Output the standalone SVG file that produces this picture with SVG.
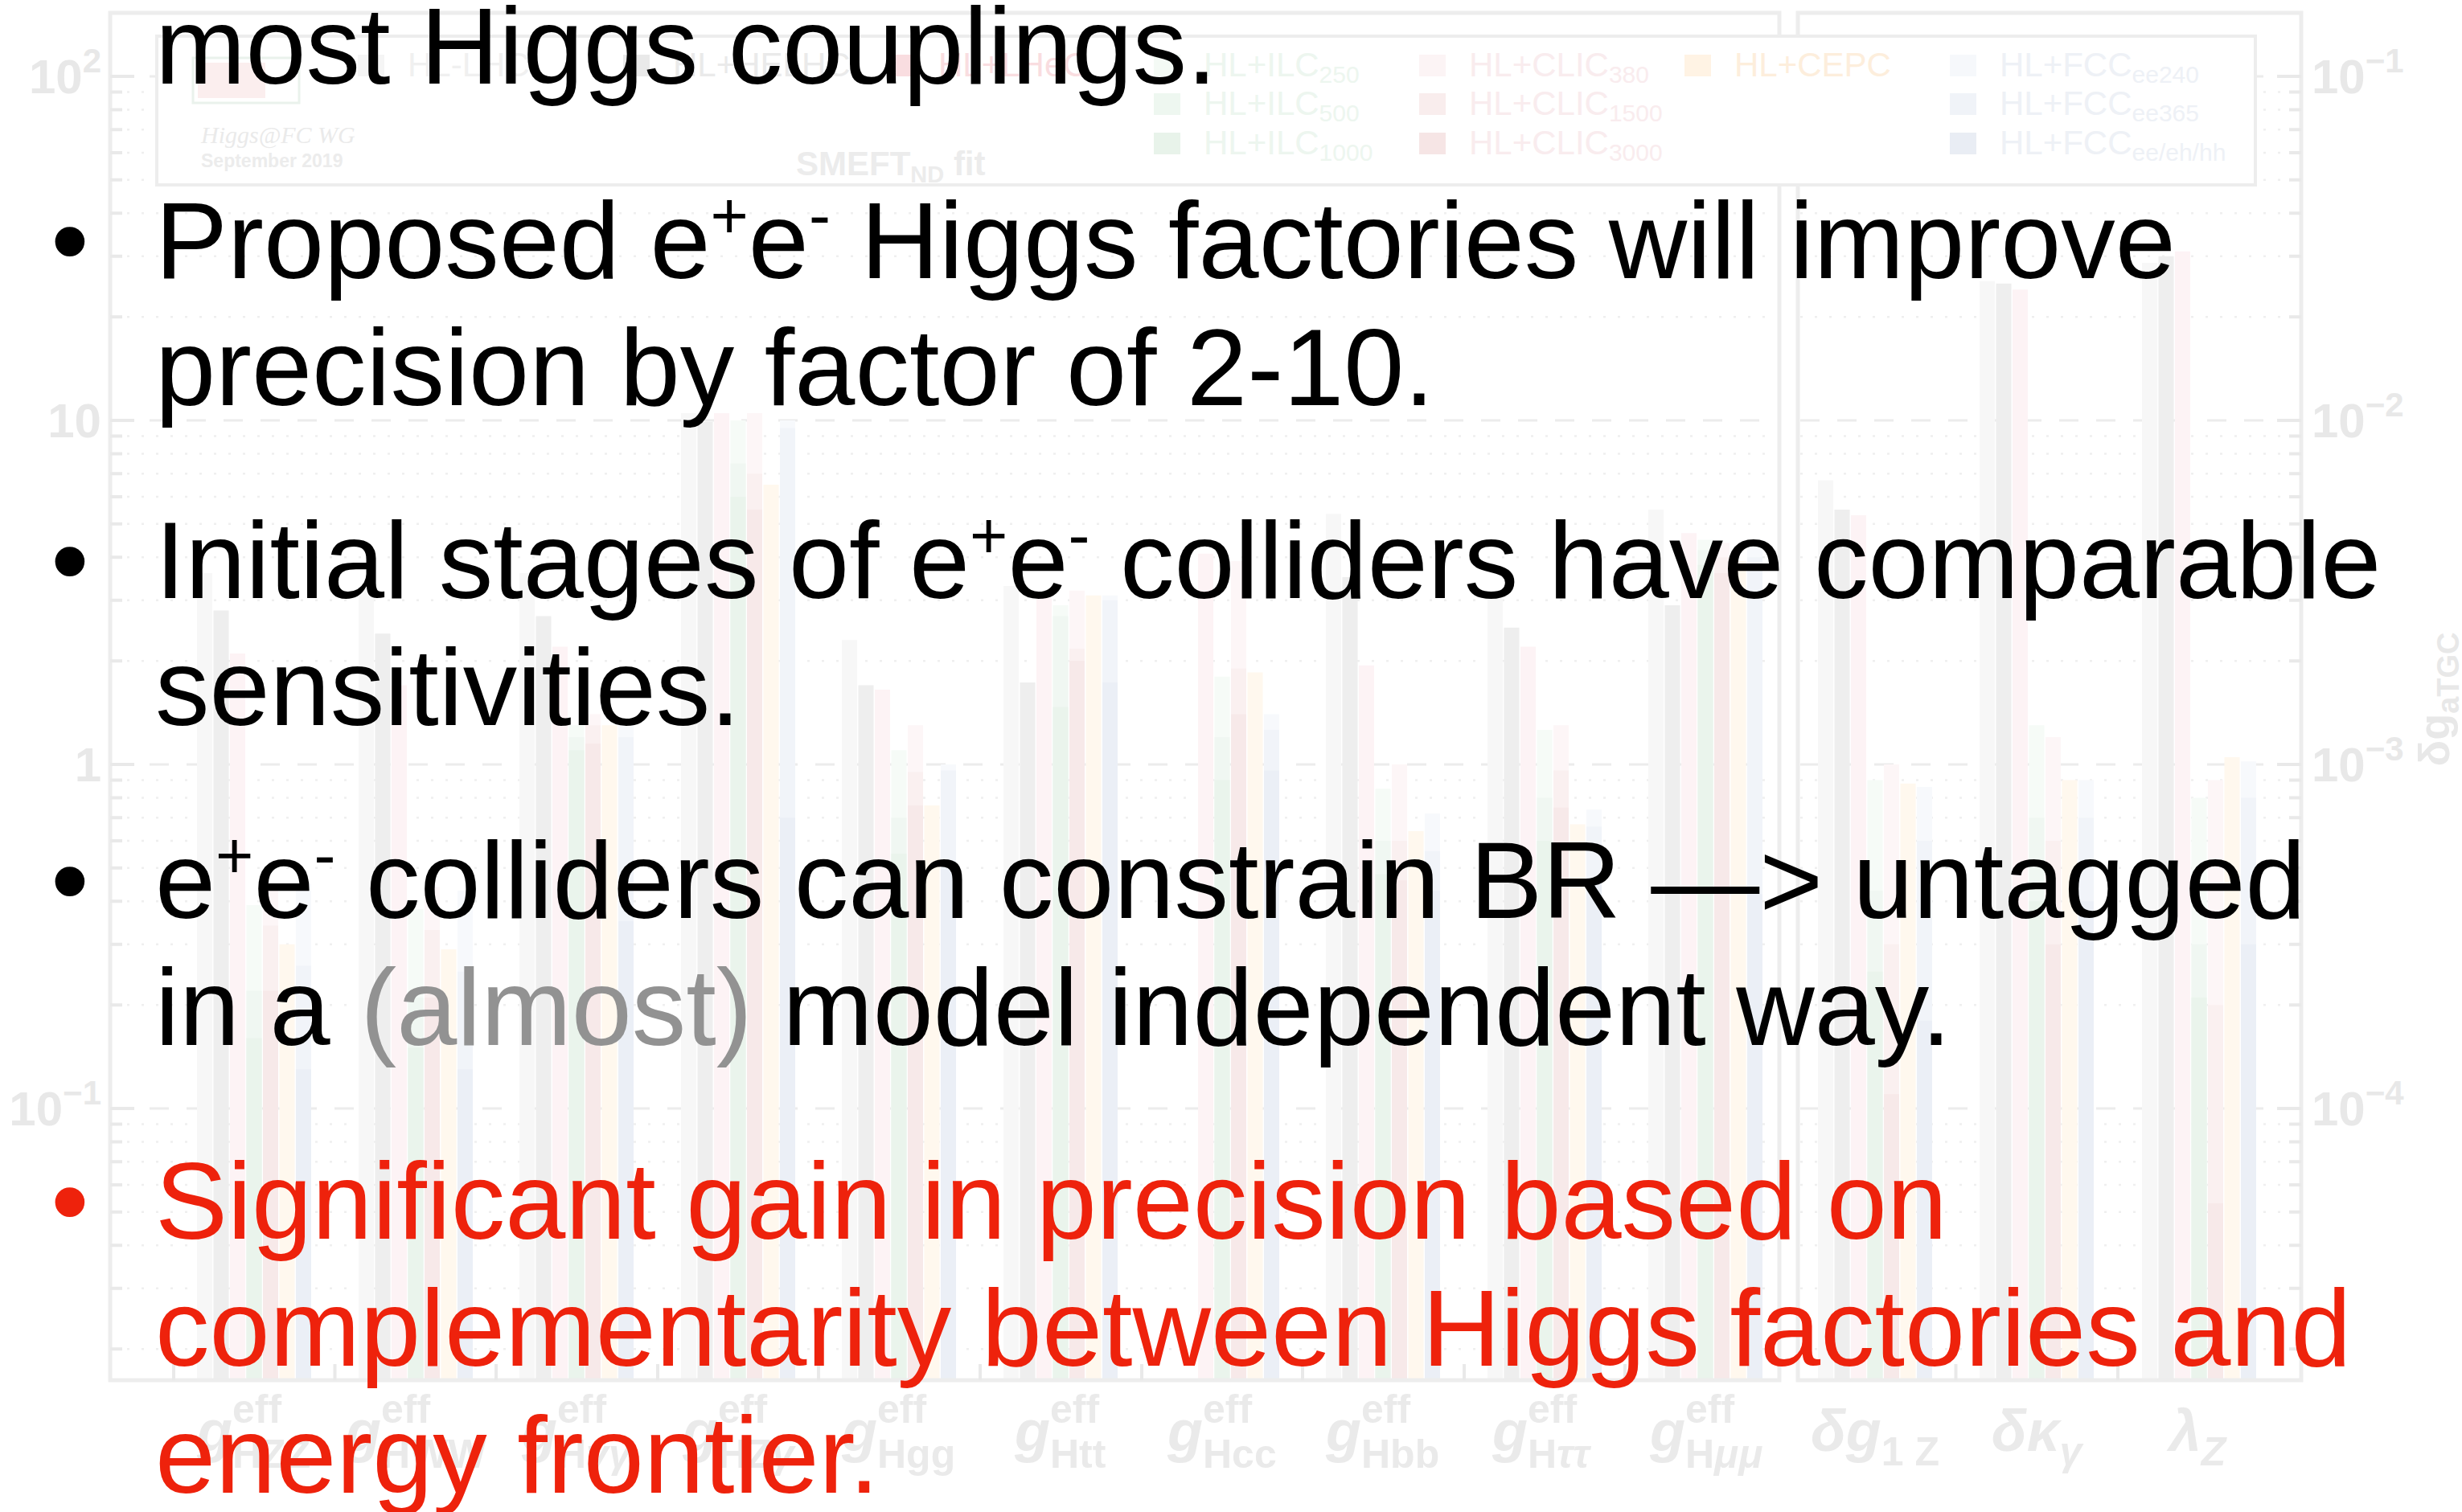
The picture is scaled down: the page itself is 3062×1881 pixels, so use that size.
<svg xmlns="http://www.w3.org/2000/svg" width="3062" height="1881" viewBox="0 0 3062 1881">
  <style>
    .t { font-family: "Liberation Sans", Arial, Helvetica, sans-serif; font-size: 135px; fill: #000; }
    .red { fill: #ee220c; }
    .gray { fill: #929292; }
    .ax { font-family: "Liberation Sans", Arial, sans-serif; font-weight: bold; fill: #e8e8e8; }
    .frame { fill: none; stroke: #ededed; stroke-width: 5; }
    .major { fill: none; stroke: #ececec; stroke-width: 3; stroke-dasharray: 24 22; }
    .minor { fill: none; stroke: #efefef; stroke-width: 2.5; stroke-dasharray: 3 15; }
    .tick { fill: none; stroke: #e9e9e9; stroke-width: 4; }
    .bars path { fill: none; stroke-width: 19; }
    .hl { stroke: #f7f7f7; } .he { stroke: #eeeeee; } .lh { stroke: #fdf3f5; }
    .i1 { stroke: #f6fbf7; } .i2 { stroke: #f0f7f2; } .i3 { stroke: #eaf4ec; }
    .c1 { stroke: #fdf6f7; } .c2 { stroke: #faf0f0; } .c3 { stroke: #f7e9e9; }
    .ce { stroke: #fff8ee; }
    .f1 { stroke: #f7f9fc; } .f2 { stroke: #f1f4f9; } .f3 { stroke: #ebeff6; }
    .leg { font-family: "Liberation Sans", Arial, sans-serif; font-size: 42px; }
    .sub { font-size: 30px; }
    .xl { font-family: "Liberation Sans", Arial, sans-serif; font-weight: bold; fill: #eaeaea; font-size: 50px; }
    .xg { font-size: 72px; font-style: italic; }
  </style>

  <rect width="3062" height="1881" fill="#fff"/>

  <!-- faded background chart: coupling precision bars -->
  <g id="chart">
    <!-- grid: dotted minor decades, dashed majors -->
    <path class="minor" d="M140 114.6H2210M2239 114.6H2859M140 136.5H2210M2239 136.5H2859M140 161.3H2210M2239 161.3H2859M140 189.9H2210M2239 189.9H2859M140 223.8H2210M2239 223.8H2859M140 265.3H2210M2239 265.3H2859M140 318.8H2210M2239 318.8H2859M140 394.2H2210M2239 394.2H2859M140 542.6H2210M2239 542.6H2859M140 564.5H2210M2239 564.5H2859M140 589.3H2210M2239 589.3H2859M140 617.9H2210M2239 617.9H2859M140 651.8H2210M2239 651.8H2859M140 693.3H2210M2239 693.3H2859M140 746.8H2210M2239 746.8H2859M140 822.2H2210M2239 822.2H2859M140 970.6H2210M2239 970.6H2859M140 992.5H2210M2239 992.5H2859M140 1017.3H2210M2239 1017.3H2859M140 1045.9H2210M2239 1045.9H2859M140 1079.8H2210M2239 1079.8H2859M140 1121.3H2210M2239 1121.3H2859M140 1174.8H2210M2239 1174.8H2859M140 1250.2H2210M2239 1250.2H2859M140 1398.6H2210M2239 1398.6H2859M140 1420.5H2210M2239 1420.5H2859M140 1445.3H2210M2239 1445.3H2859M140 1473.9H2210M2239 1473.9H2859M140 1507.8H2210M2239 1507.8H2859M140 1549.3H2210M2239 1549.3H2859M140 1602.8H2210M2239 1602.8H2859M140 1678.2H2210M2239 1678.2H2859"/>
    <path class="major" d="M140 95H2210M2239 95H2859M140 523H2210M2239 523H2859M140 951H2210M2239 951H2859M140 1379H2210M2239 1379H2859"/>

    <!-- bars: HL-LHC, HL+HELHC, HL+LHeC, ILC, CLIC, CEPC, FCC (stages overlaid) -->
    <g class="bars">
      <g transform="translate(316 0)">
        <path class="hl" d="M-61.5 712.9V1715"/><path class="he" d="M-41 759.6V1715"/><path class="lh" d="M-20.5 813.1V1715"/>
        <path class="i1" d="M0 1126V1715"/><path class="i2" d="M0 1232.4V1715"/><path class="i3" d="M0 1291.6V1715"/>
        <path class="c1" d="M20.5 1099.4V1715"/><path class="c2" d="M20.5 1151.5V1715"/><path class="c3" d="M20.5 1232.4V1715"/>
        <path class="ce" d="M41 1174.8V1715"/>
        <path class="f1" d="M61.5 1099.4V1715"/><path class="f2" d="M61.5 1201.4V1715"/><path class="f3" d="M61.5 1330.3V1715"/>
      </g>
      <g transform="translate(517 0)">
        <path class="hl" d="M-61.5 734.8V1715"/><path class="he" d="M-41 788.3V1715"/><path class="lh" d="M-20.5 852.4V1715"/>
        <path class="i1" d="M0 1130.9V1715"/><path class="i2" d="M0 1241.1V1715"/><path class="i3" d="M0 1303.6V1715"/>
        <path class="c1" d="M20.5 1103.6V1715"/><path class="c2" d="M20.5 1157.1V1715"/><path class="c3" d="M20.5 1241.1V1715"/>
        <path class="ce" d="M41 1181.1V1715"/>
        <path class="f1" d="M61.5 1107.9V1715"/><path class="f2" d="M61.5 1208.7V1715"/><path class="f3" d="M61.5 1330.3V1715"/>
      </g>
      <g transform="translate(717 0)">
        <path class="hl" d="M-61.5 712.9V1715"/><path class="he" d="M-41 766.4V1715"/><path class="lh" d="M-20.5 804.5V1715"/>
        <path class="i1" d="M0 902.2V1715"/><path class="i2" d="M0 917.1V1715"/><path class="i3" d="M0 933.3V1715"/>
        <path class="c1" d="M20.5 888.5V1715"/><path class="c2" d="M20.5 902.2V1715"/><path class="c3" d="M20.5 925V1715"/>
        <path class="ce" d="M41 902.2V1715"/>
        <path class="f1" d="M61.5 902.2V1715"/><path class="f2" d="M61.5 917.1V1715"/><path class="f3" d="M61.5 1146.1V1715"/>
      </g>
      <g transform="translate(918 0)">
        <path class="hl" d="M-61.5 513.9V1715"/><path class="he" d="M-41 524.9V1715"/><path class="lh" d="M-20.5 513.9V1715"/>
        <path class="i1" d="M0 523V1715"/><path class="i2" d="M0 576.5V1715"/><path class="i3" d="M0 617.9V1715"/>
        <path class="c1" d="M20.5 513.9V1715"/><path class="c2" d="M20.5 589.3V1715"/><path class="c3" d="M20.5 634.1V1715"/>
        <path class="ce" d="M41 603.1V1715"/>
        <path class="f1" d="M61.5 523V1715"/><path class="f2" d="M61.5 532.5V1715"/><path class="f3" d="M61.5 1017.3V1715"/>
      </g>
      <g transform="translate(1118 0)">
        <path class="hl" d="M-61.5 796.2V1715"/><path class="he" d="M-41 852.4V1715"/><path class="lh" d="M-20.5 857.9V1715"/>
        <path class="i1" d="M0 933.3V1715"/><path class="i2" d="M0 1017.3V1715"/><path class="i3" d="M0 1062.1V1715"/>
        <path class="c1" d="M20.5 902.2V1715"/><path class="c2" d="M20.5 960.5V1715"/><path class="c3" d="M20.5 1002V1715"/>
        <path class="ce" d="M41 1002V1715"/>
        <path class="f1" d="M61.5 951V1715"/><path class="f2" d="M61.5 958.6V1715"/><path class="f3" d="M61.5 1079.8V1715"/>
      </g>
      <g transform="translate(1319 0)">
        <path class="hl" d="M-61.5 729.1V1715"/><path class="he" d="M-41 849.1V1715"/><path class="lh" d="M-20.5 743.7V1715"/>
        <path class="i1" d="M0 753.1V1715"/><path class="i2" d="M0 766.4V1715"/><path class="i3" d="M0 879.4V1715"/>
        <path class="c1" d="M20.5 734.8V1715"/><path class="c2" d="M20.5 807V1715"/><path class="c3" d="M20.5 822.2V1715"/>
        <path class="ce" d="M41 740.7V1715"/>
        <path class="f1" d="M61.5 740.7V1715"/><path class="f2" d="M61.5 746.8V1715"/><path class="f3" d="M61.5 849.1V1715"/>
      </g>
      <g transform="translate(1520 0)">
        <path class="lh" d="M-20.5 688.7V1715"/>
        <path class="i1" d="M0 841.7V1715"/><path class="i2" d="M0 917.1V1715"/><path class="i3" d="M0 970.6V1715"/>
        <path class="c1" d="M20.5 698V1715"/><path class="c2" d="M20.5 831.7V1715"/><path class="c3" d="M20.5 888.5V1715"/>
        <path class="ce" d="M41 836.6V1715"/>
        <path class="f1" d="M61.5 888.5V1715"/><path class="f2" d="M61.5 908V1715"/><path class="f3" d="M61.5 958.6V1715"/>
      </g>
      <g transform="translate(1720 0)">
        <path class="hl" d="M-61.5 639.2V1715"/><path class="he" d="M-41 718.1V1715"/><path class="lh" d="M-20.5 827.8V1715"/>
        <path class="i1" d="M0 981.2V1715"/><path class="i2" d="M0 1045.9V1715"/><path class="i3" d="M0 1087.4V1715"/>
        <path class="c1" d="M20.5 951V1715"/><path class="c2" d="M20.5 1045.9V1715"/><path class="c3" d="M20.5 1095.3V1715"/>
        <path class="ce" d="M41 1034V1715"/>
        <path class="f1" d="M61.5 1012.1V1715"/><path class="f2" d="M61.5 1058.8V1715"/><path class="f3" d="M61.5 1107.9V1715"/>
      </g>
      <g transform="translate(1921 0)">
        <path class="hl" d="M-61.5 743.7V1715"/><path class="he" d="M-41 780.7V1715"/><path class="lh" d="M-20.5 804.5V1715"/>
        <path class="i1" d="M0 908V1715"/><path class="i2" d="M0 992.5V1715"/><path class="i3" d="M0 1045.9V1715"/>
        <path class="c1" d="M20.5 902.2V1715"/><path class="c2" d="M20.5 958.6V1715"/><path class="c3" d="M20.5 1004.5V1715"/>
        <path class="ce" d="M41 1025.4V1715"/>
        <path class="f1" d="M61.5 1007V1715"/><path class="f2" d="M61.5 1028.3V1715"/><path class="f3" d="M61.5 1095.3V1715"/>
      </g>
      <g transform="translate(2121 0)">
        <path class="hl" d="M-61.5 634.1V1715"/><path class="he" d="M-41 753.1V1715"/><path class="lh" d="M-20.5 663.3V1715"/>
        <path class="i1" d="M0 671.4V1715"/><path class="i2" d="M0 684.3V1715"/><path class="i3" d="M0 702.8V1715"/>
        <path class="c1" d="M20.5 675.6V1715"/><path class="c2" d="M20.5 693.3V1715"/><path class="c3" d="M20.5 712.9V1715"/>
        <path class="ce" d="M41 698V1715"/>
        <path class="f1" d="M61.5 671.4V1715"/><path class="f2" d="M61.5 693.3V1715"/><path class="f3" d="M61.5 1112.3V1715"/>
      </g>
      <g transform="translate(2332 0)">
        <path class="hl" d="M-61.5 597.4V1715"/><path class="he" d="M-41 634.1V1715"/><path class="lh" d="M-20.5 641V1715"/>
        <path class="i1" d="M0 970.6V1715"/><path class="i2" d="M0 1107.9V1715"/><path class="i3" d="M0 1208.7V1715"/>
        <path class="c1" d="M20.5 951V1715"/><path class="c2" d="M20.5 1174.8V1715"/><path class="c3" d="M20.5 1361.3V1715"/>
        <path class="ce" d="M41 974.8V1715"/>
        <path class="f1" d="M61.5 979V1715"/><path class="f2" d="M61.5 1045.9V1715"/><path class="f3" d="M61.5 1269.7V1715"/>
      </g>
      <g transform="translate(2533 0)">
        <path class="hl" d="M-61.5 349.7V1715"/><path class="he" d="M-41 352.7V1715"/><path class="lh" d="M-20.5 360.3V1715"/>
        <path class="i1" d="M0 902.2V1715"/><path class="i2" d="M0 1017.3V1715"/><path class="i3" d="M0 1121.3V1715"/>
        <path class="c1" d="M20.5 917.1V1715"/><path class="c2" d="M20.5 1045.9V1715"/><path class="c3" d="M20.5 1174.8V1715"/>
        <path class="ce" d="M41 970.6V1715"/>
        <path class="f1" d="M61.5 970.6V1715"/><path class="f2" d="M61.5 1017.3V1715"/><path class="f3" d="M61.5 1121.3V1715"/>
      </g>
      <g transform="translate(2735 0)">
        <path class="hl" d="M-61.5 327V1715"/><path class="he" d="M-41 318.8V1715"/><path class="lh" d="M-20.5 312.7V1715"/>
        <path class="i1" d="M0 992.5V1715"/><path class="i2" d="M0 1174.8V1715"/><path class="i3" d="M0 1241.1V1715"/>
        <path class="c1" d="M20.5 970.6V1715"/><path class="c2" d="M20.5 1250.2V1715"/><path class="c3" d="M20.5 1497V1715"/>
        <path class="ce" d="M41 941.9V1715"/>
        <path class="f1" d="M61.5 947.3V1715"/><path class="f2" d="M61.5 992.5V1715"/><path class="f3" d="M61.5 1174.8V1715"/>
      </g>
    </g>

    <!-- panel frames -->
    <rect class="frame" x="137" y="16" width="2076" height="1701"/>
    <rect class="frame" x="2236" y="16" width="626" height="1701"/>

    <!-- axis ticks -->
    <path class="tick" d="M137 95h30M137 523h30M137 951h30M137 1379h30M2862 95h-30M2862 523h-30M2862 951h-30M2862 1379h-30"/>
    <path class="tick" d="M137 114.6h15M137 136.5h15M137 161.3h15M137 189.9h15M137 223.8h15M137 265.3h15M137 318.8h15M137 394.2h15M137 542.6h15M137 564.5h15M137 589.3h15M137 617.9h15M137 651.8h15M137 693.3h15M137 746.8h15M137 822.2h15M137 970.6h15M137 992.5h15M137 1017.3h15M137 1045.9h15M137 1079.8h15M137 1121.3h15M137 1174.8h15M137 1250.2h15M137 1398.6h15M137 1420.5h15M137 1445.3h15M137 1473.9h15M137 1507.8h15M137 1549.3h15M137 1602.8h15M137 1678.2h15M2862 114.6h-15M2862 136.5h-15M2862 161.3h-15M2862 189.9h-15M2862 223.8h-15M2862 265.3h-15M2862 318.8h-15M2862 394.2h-15M2862 542.6h-15M2862 564.5h-15M2862 589.3h-15M2862 617.9h-15M2862 651.8h-15M2862 693.3h-15M2862 746.8h-15M2862 822.2h-15M2862 970.6h-15M2862 992.5h-15M2862 1017.3h-15M2862 1045.9h-15M2862 1079.8h-15M2862 1121.3h-15M2862 1174.8h-15M2862 1250.2h-15M2862 1398.6h-15M2862 1420.5h-15M2862 1445.3h-15M2862 1473.9h-15M2862 1507.8h-15M2862 1549.3h-15M2862 1602.8h-15M2862 1678.2h-15"/>
    <path class="tick" d="M216 1717v-20M416.5 1717v-20M617 1717v-20M818 1717v-20M1018 1717v-20M1219 1717v-20M1420 1717v-20M1620 1717v-20M1821 1717v-20M2021 1717v-20M2432.5 1717v-20M2634 1717v-20"/>

    <!-- left axis labels (percent) -->
    <g class="ax" font-size="60" text-anchor="end">
      <text x="126" y="116">10<tspan font-size="42" dy="-26">2</tspan></text>
      <text x="126" y="544">10</text>
      <text x="126" y="972">1</text>
      <text x="126" y="1400">10<tspan font-size="42" dy="-26">−1</tspan></text>
    </g>
    <!-- right axis labels -->
    <g class="ax" font-size="60">
      <text x="2875" y="116">10<tspan font-size="42" dy="-26">−1</tspan></text>
      <text x="2875" y="544">10<tspan font-size="42" dy="-26">−2</tspan></text>
      <text x="2875" y="972">10<tspan font-size="42" dy="-26">−3</tspan></text>
      <text x="2875" y="1400">10<tspan font-size="42" dy="-26">−4</tspan></text>
    </g>
    <text class="ax" font-size="54" transform="translate(3046 870) rotate(-90)" text-anchor="middle">δg<tspan font-size="38" dy="12">aTGC</tspan></text>

    <!-- coupling labels -->
    <g class="xl">
      <text x="245" y="1805"><tspan class="xg">g</tspan><tspan x="289" y="1770">eff</tspan><tspan x="289" y="1826">HZZ</tspan></text>
      <text x="430" y="1805"><tspan class="xg">g</tspan><tspan x="474" y="1770">eff</tspan><tspan x="474" y="1826">HWW</tspan></text>
      <text x="649" y="1805"><tspan class="xg">g</tspan><tspan x="693" y="1770">eff</tspan><tspan x="693" y="1826">H<tspan font-style="italic">γγ</tspan></tspan></text>
      <text x="849" y="1805"><tspan class="xg">g</tspan><tspan x="893" y="1770">eff</tspan><tspan x="893" y="1826">HZ<tspan font-style="italic">γ</tspan></tspan></text>
      <text x="1047" y="1805"><tspan class="xg">g</tspan><tspan x="1091" y="1770">eff</tspan><tspan x="1091" y="1826">Hgg</tspan></text>
      <text x="1262" y="1805"><tspan class="xg">g</tspan><tspan x="1306" y="1770">eff</tspan><tspan x="1306" y="1826">Htt</tspan></text>
      <text x="1452" y="1805"><tspan class="xg">g</tspan><tspan x="1496" y="1770">eff</tspan><tspan x="1496" y="1826">Hcc</tspan></text>
      <text x="1649" y="1805"><tspan class="xg">g</tspan><tspan x="1693" y="1770">eff</tspan><tspan x="1693" y="1826">Hbb</tspan></text>
      <text x="1856" y="1805"><tspan class="xg">g</tspan><tspan x="1900" y="1770">eff</tspan><tspan x="1900" y="1826">H<tspan font-style="italic">ττ</tspan></tspan></text>
      <text x="2052" y="1805"><tspan class="xg">g</tspan><tspan x="2096" y="1770">eff</tspan><tspan x="2096" y="1826">H<tspan font-style="italic">μμ</tspan></tspan></text>
      <text x="2332" y="1805" text-anchor="middle" font-size="72" font-style="italic">δg<tspan font-size="50" font-style="normal" dy="18">1 Z</tspan></text>
      <text x="2533" y="1805" text-anchor="middle" font-size="72" font-style="italic">δκ<tspan font-size="50" dy="18">γ</tspan></text>
      <text x="2733" y="1805" text-anchor="middle" font-size="72" font-style="italic">λ<tspan font-size="50" dy="18">Z</tspan></text>
    </g>

    <!-- legend -->
    <g id="legend">
      <rect x="195" y="45" width="2610" height="185" fill="#fff" stroke="#ededed" stroke-width="4"/>
      <rect x="240" y="72" width="132" height="56" fill="#fff" stroke="#eaf2ec" stroke-width="3"/>
      <rect x="246" y="78" width="84" height="44" fill="#fbeeee"/>
      <text x="250" y="178" font-family="'Liberation Serif', 'Times New Roman', serif" font-style="italic" font-size="30" fill="#eaeaea">Higgs@FC WG</text>
      <text x="250" y="208" font-family="'Liberation Sans', Arial, sans-serif" font-weight="bold" font-size="23" fill="#ececec">September 2019</text>
      <text x="990" y="218" font-family="'Liberation Sans', Arial, sans-serif" font-weight="bold" font-size="42" fill="#ececec">SMEFT<tspan font-size="29" dy="9">ND</tspan><tspan dy="-9"> fit</tspan></text>
      <g class="leg">
        <rect x="445" y="68" width="33" height="27" fill="#f5f5f5"/><text x="507" y="95" fill="#f0f0f0">HL-LHC</text>
        <rect x="775" y="68" width="33" height="27" fill="#e9e9e9"/><text x="837" y="95" fill="#eaeaea">HL+HELHC</text>
        <rect x="1105" y="68" width="33" height="27" fill="#f9dde0"/><text x="1167" y="95" fill="#f9dde0">HL+LHeC</text>
        <rect x="1435" y="68" width="33" height="27" fill="#f4faf5"/><text x="1497" y="95" fill="#edf6ef">HL+ILC<tspan class="sub" dy="8">250</tspan></text>
        <rect x="1435" y="116" width="33" height="27" fill="#eef7f0"/><text x="1497" y="143" fill="#edf6ef">HL+ILC<tspan class="sub" dy="8">500</tspan></text>
        <rect x="1435" y="165" width="33" height="27" fill="#e8f3ea"/><text x="1497" y="192" fill="#edf6ef">HL+ILC<tspan class="sub" dy="8">1000</tspan></text>
        <rect x="1765" y="68" width="33" height="27" fill="#fcf4f5"/><text x="1827" y="95" fill="#f9ecee">HL+CLIC<tspan class="sub" dy="8">380</tspan></text>
        <rect x="1765" y="116" width="33" height="27" fill="#f9eded"/><text x="1827" y="143" fill="#f9ecee">HL+CLIC<tspan class="sub" dy="8">1500</tspan></text>
        <rect x="1765" y="165" width="33" height="27" fill="#f6e5e5"/><text x="1827" y="192" fill="#f9ecee">HL+CLIC<tspan class="sub" dy="8">3000</tspan></text>
        <rect x="2095" y="68" width="33" height="27" fill="#fff3e4"/><text x="2157" y="95" fill="#fdeedc">HL+CEPC</text>
        <rect x="2425" y="68" width="33" height="27" fill="#f6f8fb"/><text x="2487" y="95" fill="#eef1f6">HL+FCC<tspan class="sub" dy="8">ee240</tspan></text>
        <rect x="2425" y="116" width="33" height="27" fill="#f0f3f8"/><text x="2487" y="143" fill="#eef1f6">HL+FCC<tspan class="sub" dy="8">ee365</tspan></text>
        <rect x="2425" y="165" width="33" height="27" fill="#e9edf4"/><text x="2487" y="192" fill="#eef1f6">HL+FCC<tspan class="sub" dy="8">ee/eh/hh</tspan></text>
      </g>
    </g>
  </g>

  <!-- slide text -->
  <g id="bullets" class="t">
    <text x="193" y="104">most Higgs couplings.</text>

    <text x="87" y="346" text-anchor="middle">•</text>
    <text x="193" y="346">Proposed e<tspan font-size="81" dy="-50">+</tspan><tspan dy="50">e</tspan><tspan font-size="81" dy="-50">-</tspan><tspan dy="50"> Higgs factories will improve</tspan></text>
    <text x="193" y="504">precision by factor of 2-10.</text>

    <text x="87" y="744" text-anchor="middle">•</text>
    <text x="193" y="744">Initial stages of e<tspan font-size="81" dy="-50">+</tspan><tspan dy="50">e</tspan><tspan font-size="81" dy="-50">-</tspan><tspan dy="50"> colliders have comparable</tspan></text>
    <text x="193" y="902">sensitivities.</text>

    <text x="87" y="1142" text-anchor="middle">•</text>
    <text x="193" y="1142">e<tspan font-size="81" dy="-50">+</tspan><tspan dy="50">e</tspan><tspan font-size="81" dy="-50">-</tspan><tspan dy="50"> colliders can constrain BR —&gt; untagged</tspan></text>
    <text x="193" y="1300">in a <tspan class="gray">(almost)</tspan> model independent way.</text>

    <g class="red">
      <text x="87" y="1541" text-anchor="middle">•</text>
      <text x="193" y="1541">Significant gain in precision based on</text>
      <text x="193" y="1699">complementarity between Higgs factories and</text>
      <text x="193" y="1857">energy frontier.</text>
    </g>
  </g>
</svg>
